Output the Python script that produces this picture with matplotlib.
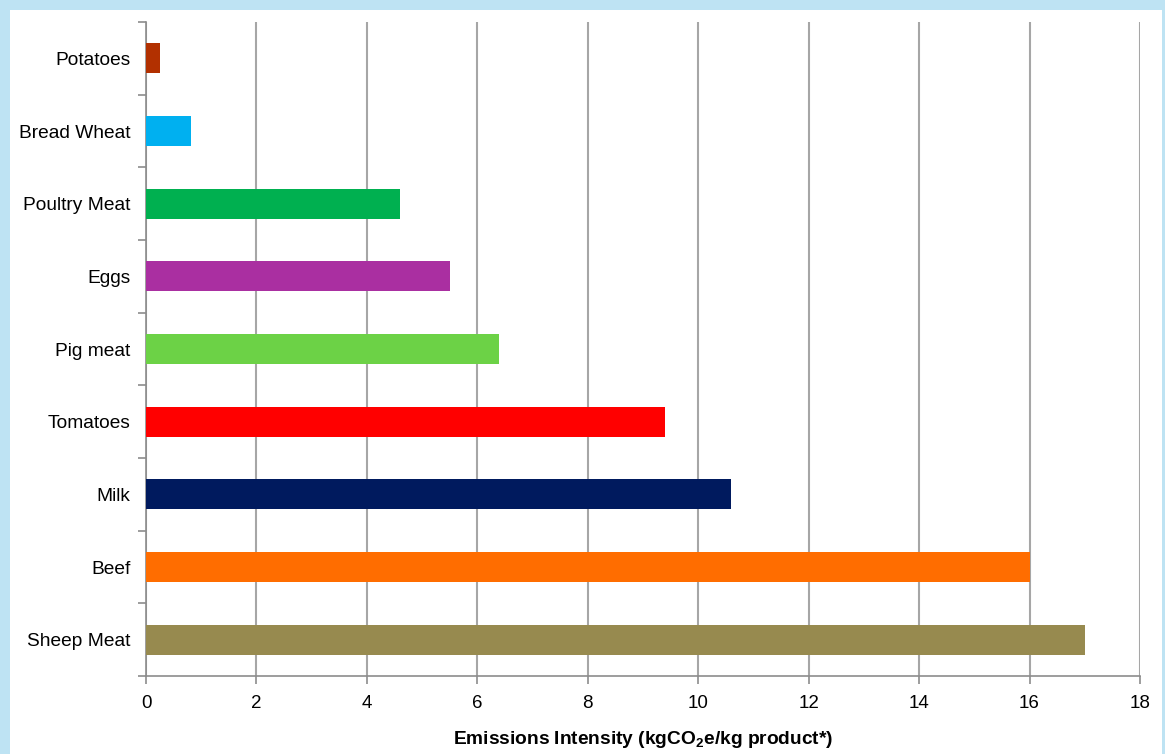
import numpy as np
import matplotlib.pyplot as plt
from matplotlib.patches import Rectangle

plt.rcParams['font.family'] = 'Liberation Sans'
plt.rcParams['mathtext.fontset'] = 'custom'
plt.rcParams['mathtext.bf'] = 'Liberation Sans:bold'
plt.rcParams['mathtext.rm'] = 'Liberation Sans'

# products, top to bottom
products = ['Potatoes', 'Bread Wheat', 'Poultry Meat', 'Eggs', 'Pig meat',
            'Tomatoes', 'Milk', 'Beef', 'Sheep Meat']
intensity = [0.25, 0.82, 4.6, 5.5, 6.4, 9.4, 10.6, 16.0, 17.0]
colors = ['#B23000', '#00B0F0', '#00B050', '#AA2FA1', '#6CD246',
          '#FF0000', '#001A5E', '#FF6D00', '#978A4F']
xticks = np.arange(0, 19, 2)

fig = plt.figure(figsize=(11.65, 7.54), dpi=100)
fig.patch.set_facecolor('#BEE3F3')
# white panel inside the blue frame
fig.patches.append(Rectangle((10 / 1165, 0), 1152 / 1165, 744 / 754,
                             transform=fig.transFigure, facecolor='white',
                             edgecolor='none', zorder=-10))

ax = fig.add_axes([146 / 1165, 1 - 676 / 754, 994 / 1165, 654 / 754])
ax.set_facecolor('none')

y = np.arange(len(products))[::-1]
ax.barh(y, intensity, height=0.41, color=colors, zorder=3)

ax.set_xlim(0, 18)
ax.set_ylim(-0.5, len(products) - 0.5)
ax.set_xticks(xticks)
ax.set_xticklabels([str(v) for v in xticks], fontsize=13.5)
ax.set_yticks(y)
ax.set_yticklabels(products, fontsize=13.8)
ax.set_yticks(np.arange(-0.5, len(products), 1), minor=True)

ax.tick_params(axis='y', which='major', length=0, pad=11)
ax.tick_params(axis='y', which='minor', length=6, color='#8C8C8C', width=1.2)
ax.tick_params(axis='x', length=6, color='#8C8C8C', width=1.2, pad=8)

ax.grid(axis='x', color='#A6A6A6', linewidth=1.5, zorder=1)
ax.set_axisbelow(True)
for s in ['top', 'right']:
    ax.spines[s].set_visible(False)
for s in ['left', 'bottom']:
    ax.spines[s].set_color('#8C8C8C')
    ax.spines[s].set_linewidth(1.2)

ax.set_xlabel(r'Emissions Intensity (kgCO$_\mathbf{2}$e/kg product*)',
              fontsize=13.8, fontweight='bold', labelpad=12)

fig.savefig('out.png', dpi=100, facecolor=fig.get_facecolor())
